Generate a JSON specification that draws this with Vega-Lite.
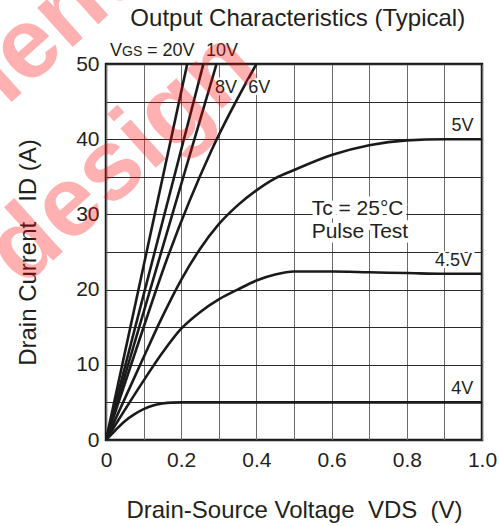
{
  "$schema": "https://vega.github.io/schema/vega-lite/v6.json",
  "width": 376,
  "height": 376,
  "autosize": {"type": "none"},
  "padding": {"left": 106, "top": 64, "right": 17, "bottom": 86},
  "background": "white",
  "config": {
    "view": {"stroke": "#1a1a1a", "strokeWidth": 2.5},
    "font": "Liberation Sans",
    "text": {"font": "Liberation Sans", "color": "#231f20"}
  },
  "datasets": {
    "curves": [
      {"vgs": "20V", "vds": 0, "id": 0}, {"vgs": "20V", "vds": 0.216, "id": 50},
      {"vgs": "10V", "vds": 0, "id": 0}, {"vgs": "10V", "vds": 0.259, "id": 50},
      {"vgs": "8V", "vds": 0, "id": 0}, {"vgs": "8V", "vds": 0.294, "id": 50},
      {"vgs": "6V", "vds": 0, "id": 0}, {"vgs": "6V", "vds": 0.08, "id": 12.0}, {"vgs": "6V", "vds": 0.161, "id": 23.9}, {"vgs": "6V", "vds": 0.281, "id": 38.56}, {"vgs": "6V", "vds": 0.4, "id": 50},
      {"vgs": "5V", "vds": 0, "id": 0}, {"vgs": "5V", "vds": 0.05, "id": 5.5}, {"vgs": "5V", "vds": 0.1, "id": 11}, {"vgs": "5V", "vds": 0.15, "id": 16.4}, {"vgs": "5V", "vds": 0.2, "id": 21.3}, {"vgs": "5V", "vds": 0.25, "id": 25.4}, {"vgs": "5V", "vds": 0.3, "id": 28.7}, {"vgs": "5V", "vds": 0.35, "id": 31.2}, {"vgs": "5V", "vds": 0.4, "id": 33.2}, {"vgs": "5V", "vds": 0.45, "id": 34.8}, {"vgs": "5V", "vds": 0.5, "id": 35.9}, {"vgs": "5V", "vds": 0.6, "id": 37.9}, {"vgs": "5V", "vds": 0.7, "id": 39.2}, {"vgs": "5V", "vds": 0.8, "id": 39.85}, {"vgs": "5V", "vds": 0.9, "id": 40}, {"vgs": "5V", "vds": 1.0, "id": 40},
      {"vgs": "4.5V", "vds": 0, "id": 0}, {"vgs": "4.5V", "vds": 0.05, "id": 4.0}, {"vgs": "4.5V", "vds": 0.1, "id": 7.9}, {"vgs": "4.5V", "vds": 0.15, "id": 11.6}, {"vgs": "4.5V", "vds": 0.2, "id": 14.8}, {"vgs": "4.5V", "vds": 0.25, "id": 17.0}, {"vgs": "4.5V", "vds": 0.3, "id": 18.7}, {"vgs": "4.5V", "vds": 0.35, "id": 20.0}, {"vgs": "4.5V", "vds": 0.4, "id": 21.2}, {"vgs": "4.5V", "vds": 0.45, "id": 22.0}, {"vgs": "4.5V", "vds": 0.5, "id": 22.4}, {"vgs": "4.5V", "vds": 0.6, "id": 22.4}, {"vgs": "4.5V", "vds": 0.7, "id": 22.3}, {"vgs": "4.5V", "vds": 0.8, "id": 22.2}, {"vgs": "4.5V", "vds": 0.9, "id": 22.1}, {"vgs": "4.5V", "vds": 1.0, "id": 22.1},
      {"vgs": "4V", "vds": 0, "id": 0}, {"vgs": "4V", "vds": 0.025, "id": 1.3}, {"vgs": "4V", "vds": 0.05, "id": 2.5}, {"vgs": "4V", "vds": 0.075, "id": 3.4}, {"vgs": "4V", "vds": 0.1, "id": 4.1}, {"vgs": "4V", "vds": 0.125, "id": 4.6}, {"vgs": "4V", "vds": 0.15, "id": 4.85}, {"vgs": "4V", "vds": 0.175, "id": 4.97}, {"vgs": "4V", "vds": 0.2, "id": 5.0}, {"vgs": "4V", "vds": 0.3, "id": 5.0}, {"vgs": "4V", "vds": 1.0, "id": 5.0}
    ],
    "curveLabels": [
      {"t": "8V", "vds": 0.29, "id": 46.1},
      {"t": "6V", "vds": 0.378, "id": 46.1},
      {"t": "5V", "vds": 0.919, "id": 41.1},
      {"t": "4.5V", "vds": 0.875, "id": 23.2},
      {"t": "4V", "vds": 0.918, "id": 6.07}
    ],
    "vgsLabels": [
      {"t": "V", "vds": 0.0106, "id": 51.0},
      {"t": "= 20V", "vds": 0.109, "id": 51.0},
      {"t": "10V", "vds": 0.266, "id": 51.0}
    ],
    "gsLabel": [{"t": "GS", "vds": 0.0426, "id": 51.0}],
    "cond": [
      {"t": "Tc = 25°C", "vds": 0.547, "id": 29.9},
      {"t": "Pulse Test", "vds": 0.547, "id": 26.9}
    ],
    "title": [{"t": "Output Characteristics (Typical)", "vds": 0.51, "id": 55.0}],
    "watermark": [
      {"t": "Not recommended", "vds": 0.37, "id": 72.9},
      {"t": "for new design", "vds": 0.415, "id": 48.9}
    ]
  },
  "encoding": {
    "x": {
      "field": "vds", "type": "quantitative",
      "scale": {"domain": [0, 1], "nice": false, "zero": false},
      "axis": {
        "tickCount": 11,
        "labelExpr": "round(datum.value*10) % 2 == 0 ? (datum.value == 0 ? '0' : format(datum.value, '.1f')) : ''",
        "title": "Drain-Source Voltage\u00a0 VDS\u00a0 (V)",
        "titleFontSize": 24, "titleFontWeight": "normal", "titleColor": "#231f20", "titleFont": "Liberation Sans",
        "titleY": 77, "titleBaseline": "alphabetic",
        "labelFontSize": 21, "labelColor": "#231f20", "labelFont": "Liberation Sans",
        "labelPadding": 9, "labelOverlap": false, "labelFlush": false, "labelBound": false,
        "ticks": false, "tickSize": 0, "domain": false,
        "grid": true, "gridColor": "#6a6a6a", "gridWidth": 1, "gridOpacity": 1
      }
    },
    "y": {
      "field": "id", "type": "quantitative",
      "scale": {"domain": [0, 50], "nice": false},
      "axis": {
        "tickCount": 11,
        "labelExpr": "round(datum.value) % 10 == 0 ? datum.label : ''",
        "title": "Drain Current\u00a0\u00a0 ID (A)",
        "titleFontSize": 24, "titleFontWeight": "normal", "titleColor": "#231f20", "titleFont": "Liberation Sans",
        "titleX": -71, "titleBaseline": "alphabetic",
        "labelFontSize": 21, "labelColor": "#231f20", "labelFont": "Liberation Sans",
        "labelPadding": 7, "labelOverlap": false, "labelFlush": false, "labelBound": false,
        "ticks": false, "tickSize": 0, "domain": false,
        "grid": true, "gridColor": "#2a2a2a", "gridWidth": 1, "gridOpacity": 1
      }
    }
  },
  "layer": [
    {
      "data": {"name": "curves"},
      "mark": {"type": "line", "color": "#1a1a1a", "strokeWidth": 2.6, "interpolate": "monotone", "clip": true},
      "encoding": {"detail": {"field": "vgs", "type": "nominal"}}
    },
    {
      "data": {"name": "curveLabels"},
      "mark": {"type": "text", "fontSize": 18, "align": "left", "baseline": "alphabetic", "stroke": "white", "strokeWidth": 5, "strokeJoin": "round", "fill": "white"},
      "encoding": {"text": {"field": "t"}}
    },
    {
      "data": {"name": "curveLabels"},
      "mark": {"type": "text", "fontSize": 18, "align": "left", "baseline": "alphabetic", "color": "#231f20"},
      "encoding": {"text": {"field": "t"}}
    },
    {
      "data": {"name": "cond"},
      "mark": {"type": "text", "fontSize": 21, "align": "left", "baseline": "alphabetic", "stroke": "white", "strokeWidth": 9, "strokeJoin": "round", "fill": "white"},
      "encoding": {"text": {"field": "t"}}
    },
    {
      "data": {"name": "cond"},
      "mark": {"type": "text", "fontSize": 21, "align": "left", "baseline": "alphabetic", "color": "#231f20"},
      "encoding": {"text": {"field": "t"}}
    },
    {
      "data": {"name": "vgsLabels"},
      "mark": {"type": "text", "fontSize": 18, "align": "left", "baseline": "alphabetic", "color": "#231f20", "clip": false},
      "encoding": {"text": {"field": "t"}}
    },
    {
      "data": {"name": "gsLabel"},
      "mark": {"type": "text", "fontSize": 14, "align": "left", "baseline": "alphabetic", "color": "#231f20", "clip": false},
      "encoding": {"text": {"field": "t"}}
    },
    {
      "data": {"name": "title"},
      "mark": {"type": "text", "fontSize": 24, "align": "center", "baseline": "alphabetic", "color": "#231f20", "clip": false},
      "encoding": {"text": {"field": "t"}}
    },
    {
      "data": {"name": "watermark"},
      "mark": {"type": "text", "fontSize": 100, "fontWeight": "bold", "align": "right", "baseline": "alphabetic", "angle": 318, "color": "#ff0000", "opacity": 0.3, "clip": false},
      "encoding": {"text": {"field": "t"}}
    }
  ]
}
